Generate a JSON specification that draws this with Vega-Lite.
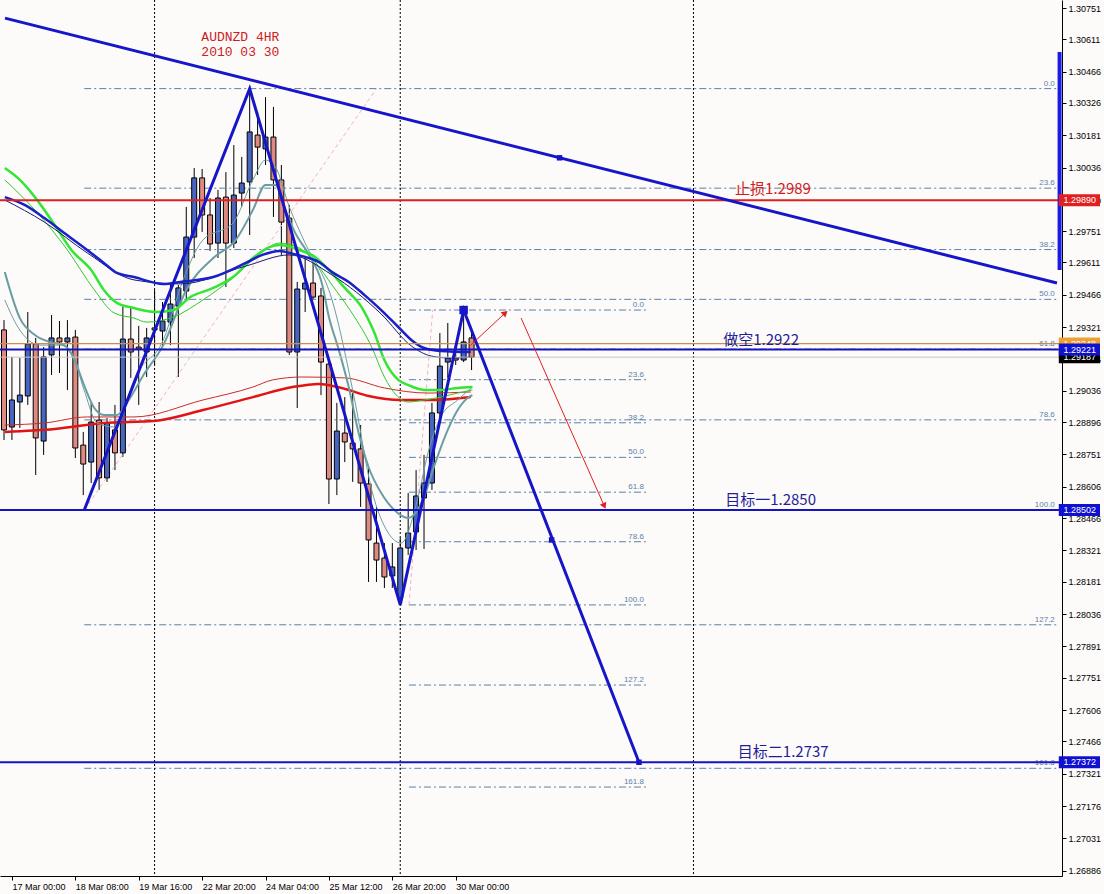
{
"$schema": "https://vega.github.io/schema/vega-lite/v6.json",
"width": 1062, "height": 876,
"autosize": {"type": "none"},
"padding": {"left": 0, "top": 0, "right": 42, "bottom": 18},
"background": "#fdfafa",
"config": {"view": {"stroke": null}, "axis": {"grid": false, "tickColor": "#000000", "domainColor": "#000000", "labelColor": "#000000", "labelFont": "Liberation Sans", "labelFontSize": 9, "labelOverlap": false, "labelSeparation": 0, "labelFlush": false, "labelBound": false}},
"resolve": {"axis": {"x": "independent", "y": "independent"}},
"datasets": {
"c": [
{"t":-1,"o":1.29309,"h":1.29353,"l":1.28816,"c":1.28861},
{"t":0,"o":1.28874,"h":1.29188,"l":1.28816,"c":1.28995},
{"t":1,"o":1.28986,"h":1.29183,"l":1.28870,"c":1.29017},
{"t":2,"o":1.29013,"h":1.29389,"l":1.28973,"c":1.29246},
{"t":3,"o":1.29246,"h":1.29273,"l":1.28659,"c":1.28825},
{"t":4,"o":1.28811,"h":1.29232,"l":1.28749,"c":1.29188},
{"t":5,"o":1.29197,"h":1.29376,"l":1.29107,"c":1.29273},
{"t":6,"o":1.29273,"h":1.29349,"l":1.29116,"c":1.29255},
{"t":7,"o":1.29255,"h":1.29353,"l":1.29040,"c":1.29273},
{"t":8,"o":1.29277,"h":1.29309,"l":1.28735,"c":1.28780},
{"t":9,"o":1.28793,"h":1.28852,"l":1.28569,"c":1.28708},
{"t":10,"o":1.28717,"h":1.28982,"l":1.28623,"c":1.28896},
{"t":11,"o":1.28905,"h":1.28986,"l":1.28592,"c":1.28646},
{"t":12,"o":1.28646,"h":1.28914,"l":1.28628,"c":1.28892},
{"t":13,"o":1.28861,"h":1.28973,"l":1.28681,"c":1.28758},
{"t":14,"o":1.28758,"h":1.29412,"l":1.28740,"c":1.29268},
{"t":15,"o":1.29268,"h":1.29412,"l":1.29094,"c":1.29210},
{"t":16,"o":1.29232,"h":1.29327,"l":1.28973,"c":1.29224},
{"t":17,"o":1.29210,"h":1.29318,"l":1.29098,"c":1.29273},
{"t":18,"o":1.29318,"h":1.29488,"l":1.29152,"c":1.29309},
{"t":19,"o":1.29304,"h":1.29434,"l":1.29228,"c":1.29349},
{"t":20,"o":1.29344,"h":1.29519,"l":1.29241,"c":1.29425},
{"t":21,"o":1.29416,"h":1.29510,"l":1.29098,"c":1.29497},
{"t":22,"o":1.29483,"h":1.29860,"l":1.29443,"c":1.29725},
{"t":23,"o":1.29725,"h":1.30034,"l":1.29631,"c":1.29990},
{"t":24,"o":1.29990,"h":1.30030,"l":1.29748,"c":1.29824},
{"t":25,"o":1.29824,"h":1.29900,"l":1.29663,"c":1.29694},
{"t":26,"o":1.29698,"h":1.29936,"l":1.29631,"c":1.29900},
{"t":27,"o":1.29904,"h":1.30016,"l":1.29501,"c":1.29698},
{"t":28,"o":1.29698,"h":1.30137,"l":1.29676,"c":1.29913},
{"t":29,"o":1.29922,"h":1.30084,"l":1.29860,"c":1.29967},
{"t":30,"o":1.29972,"h":1.30390,"l":1.29734,"c":1.30196},
{"t":31,"o":1.30182,"h":1.30285,"l":1.30003,"c":1.30128},
{"t":32,"o":1.30120,"h":1.30352,"l":1.30048,"c":1.30173},
{"t":33,"o":1.30173,"h":1.30308,"l":1.29815,"c":1.29981},
{"t":34,"o":1.29981,"h":1.30048,"l":1.29645,"c":1.29792},
{"t":35,"o":1.29810,"h":1.29869,"l":1.29197,"c":1.29210},
{"t":36,"o":1.29210,"h":1.29524,"l":1.28959,"c":1.29492},
{"t":37,"o":1.29492,"h":1.29631,"l":1.29389,"c":1.29519},
{"t":38,"o":1.29519,"h":1.29609,"l":1.29443,"c":1.29456},
{"t":39,"o":1.29461,"h":1.29497,"l":1.29017,"c":1.29165},
{"t":40,"o":1.29156,"h":1.29174,"l":1.28529,"c":1.28641},
{"t":41,"o":1.28641,"h":1.28982,"l":1.28569,"c":1.28856},
{"t":42,"o":1.28847,"h":1.29008,"l":1.28717,"c":1.28807},
{"t":43,"o":1.28802,"h":1.29026,"l":1.28628,"c":1.28776},
{"t":44,"o":1.28776,"h":1.28883,"l":1.28516,"c":1.28623},
{"t":45,"o":1.28619,"h":1.28690,"l":1.28180,"c":1.28368},
{"t":46,"o":1.28354,"h":1.28516,"l":1.28180,"c":1.28278},
{"t":47,"o":1.28287,"h":1.28354,"l":1.28153,"c":1.28202},
{"t":48,"o":1.28207,"h":1.28354,"l":1.28153,"c":1.28247},
{"t":49,"o":1.28108,"h":1.28377,"l":1.28077,"c":1.28332},
{"t":50,"o":1.28332,"h":1.28578,"l":1.28301,"c":1.28399},
{"t":51,"o":1.28404,"h":1.28681,"l":1.28323,"c":1.28565},
{"t":52,"o":1.28556,"h":1.28749,"l":1.28328,"c":1.28623},
{"t":53,"o":1.28623,"h":1.28982,"l":1.28592,"c":1.28937},
{"t":54,"o":1.28937,"h":1.29295,"l":1.28905,"c":1.29147},
{"t":55,"o":1.29165,"h":1.29340,"l":1.29094,"c":1.29183},
{"t":56,"o":1.29183,"h":1.29250,"l":1.29152,"c":1.29174},
{"t":57,"o":1.29174,"h":1.29403,"l":1.29165,"c":1.29255},
{"t":58,"o":1.29273,"h":1.29300,"l":1.29129,"c":1.29187}
],
"navyK": [
{"t":-0.9,"p":1.29904},{"t":1.6,"p":1.29869},{"t":4.1,"p":1.29810},{"t":6.6,"p":1.29743},{"t":9.5,"p":1.29667},{"t":11.6,"p":1.29609},{"t":13.25,"p":1.29564},{"t":15.4,"p":1.29546},{"t":19.1,"p":1.29515},{"t":21.25,"p":1.29524},{"t":25.4,"p":1.29546},{"t":29.5,"p":1.29609},{"t":31.6,"p":1.29645},{"t":33.75,"p":1.29663},{"t":35,"p":1.29654},{"t":37,"p":1.29636},{"t":38.75,"p":1.29613},{"t":40.4,"p":1.29568},{"t":42.5,"p":1.29524},{"t":44.5,"p":1.29465},{"t":46.6,"p":1.29398},{"t":48.75,"p":1.29322},{"t":50.4,"p":1.29264},{"t":52,"p":1.29228},{"t":54.1,"p":1.29215},{"t":57.9,"p":1.29210}
],
"navyT": [
{"t":-0.9,"p":1.29891},{"t":4.1,"p":1.29792},{"t":9.5,"p":1.29654},{"t":15.4,"p":1.29533},{"t":21.25,"p":1.29515},{"t":29.5,"p":1.29595},{"t":35,"p":1.29645},{"t":40.4,"p":1.29555},{"t":46.6,"p":1.29380},{"t":50.4,"p":1.29237},{"t":52.9,"p":1.29192},{"t":55.4,"p":1.29183},{"t":57.9,"p":1.29188}
],
"greenK": [
{"t":-0.9,"p":1.30034},{"t":1,"p":1.29981},{"t":2.9,"p":1.29904},{"t":5.4,"p":1.29779},{"t":7.5,"p":1.29667},{"t":10,"p":1.29577},{"t":11.6,"p":1.29488},{"t":13.25,"p":1.29430},{"t":15.4,"p":1.29407},{"t":18.25,"p":1.29389},{"t":20.4,"p":1.29398},{"t":22.5,"p":1.29456},{"t":25.4,"p":1.29497},{"t":27.9,"p":1.29546},{"t":30.4,"p":1.29631},{"t":32.5,"p":1.29680},{"t":33.75,"p":1.29689},{"t":36.25,"p":1.29667},{"t":38.25,"p":1.29636},{"t":40,"p":1.29577},{"t":42,"p":1.29497},{"t":44.1,"p":1.29412},{"t":45.75,"p":1.29295},{"t":47,"p":1.29174},{"t":48.75,"p":1.29085},{"t":50,"p":1.29062},{"t":52,"p":1.29040},{"t":54.1,"p":1.29040},{"t":56.25,"p":1.29049},{"t":58.1,"p":1.29053}
],
"greenT": [
{"t":-0.9,"p":1.29981},{"t":2.9,"p":1.29846},{"t":7,"p":1.29667},{"t":10.4,"p":1.29488},{"t":12.9,"p":1.29385},{"t":15.4,"p":1.29362},{"t":17,"p":1.29344},{"t":20.4,"p":1.29367},{"t":24.1,"p":1.29443},{"t":27.9,"p":1.29542},{"t":31.6,"p":1.29658},{"t":33.75,"p":1.29698},{"t":36.25,"p":1.29676},{"t":38.25,"p":1.29613},{"t":40.4,"p":1.29510},{"t":42.9,"p":1.29385},{"t":45.4,"p":1.29232},{"t":47,"p":1.29098},{"t":48.5,"p":1.29017},{"t":50,"p":1.28986},{"t":52,"p":1.28995},{"t":54.1,"p":1.29008},{"t":56.25,"p":1.29026},{"t":58.1,"p":1.29040}
],
"redK": [
{"t":-0.9,"p":1.28852},{"t":5.4,"p":1.28865},{"t":11.6,"p":1.28892},{"t":17.9,"p":1.28901},{"t":24.1,"p":1.28950},{"t":30.4,"p":1.29008},{"t":35.4,"p":1.29053},{"t":38.75,"p":1.29067},{"t":41.6,"p":1.29049},{"t":45,"p":1.29013},{"t":49.1,"p":1.28995},{"t":53.25,"p":1.28995},{"t":57.9,"p":1.29008}
],
"redT": [
{"t":-0.9,"p":1.28883},{"t":4.1,"p":1.28892},{"t":9.5,"p":1.28919},{"t":15.4,"p":1.28919},{"t":24.1,"p":1.28995},{"t":30.4,"p":1.29053},{"t":32.9,"p":1.29085},{"t":36.6,"p":1.29098},{"t":42,"p":1.29094},{"t":47,"p":1.29049},{"t":52.5,"p":1.29026},{"t":57.9,"p":1.29031}
],
"tealK": [
{"t":-0.9,"p":1.29568},{"t":1,"p":1.29362},{"t":2.9,"p":1.29286},{"t":4.75,"p":1.29255},{"t":6.6,"p":1.29241},{"t":7.9,"p":1.29174},{"t":9.1,"p":1.29062},{"t":10.4,"p":1.28959},{"t":11.6,"p":1.28928},{"t":13.25,"p":1.28928},{"t":14.75,"p":1.28995},{"t":16.6,"p":1.29107},{"t":19.1,"p":1.29241},{"t":22,"p":1.29488},{"t":25.4,"p":1.29631},{"t":28.25,"p":1.29712},{"t":30.4,"p":1.29846},{"t":32,"p":1.29958},{"t":33.25,"p":1.29958},{"t":34.5,"p":1.29846},{"t":35.75,"p":1.29743},{"t":37.5,"p":1.29645},{"t":39.1,"p":1.29519},{"t":40,"p":1.29367},{"t":41.25,"p":1.29219},{"t":42.5,"p":1.29053},{"t":43.75,"p":1.28847},{"t":45,"p":1.28695},{"t":46.6,"p":1.28578},{"t":48.25,"p":1.28502},{"t":50,"p":1.28466},{"t":52,"p":1.28560},{"t":53.25,"p":1.28695},{"t":55,"p":1.28861},{"t":56.25,"p":1.28950},{"t":57.5,"p":1.29004},{"t":58.1,"p":1.29017}
],
"tealT": [
{"t":-0.9,"p":1.29443},{"t":0.75,"p":1.29322},{"t":3.5,"p":1.29241},{"t":6,"p":1.29241},{"t":7.5,"p":1.29210},{"t":9.1,"p":1.29040},{"t":10.75,"p":1.28892},{"t":12.9,"p":1.28874},{"t":14.1,"p":1.28950},{"t":15.4,"p":1.29085},{"t":19.1,"p":1.29264},{"t":21.6,"p":1.29533},{"t":24.1,"p":1.29712},{"t":27.9,"p":1.29788},{"t":30.4,"p":1.29981},{"t":32,"p":1.30070},{"t":33.25,"p":1.30039},{"t":35,"p":1.29860},{"t":37,"p":1.29698},{"t":40.4,"p":1.29443},{"t":43.25,"p":1.28995},{"t":45.4,"p":1.28592},{"t":47.5,"p":1.28399},{"t":49.1,"p":1.28354},{"t":51.25,"p":1.28560},{"t":52.5,"p":1.28758},{"t":54.1,"p":1.28919},{"t":56.25,"p":1.28995},{"t":58.1,"p":1.29053}
],
"fib1": [
{"t0":9.125,"t1":131.875,"tl":131.6,"p":1.30390,"lab":"0.0"},
{"t0":9.125,"t1":131.875,"tl":131.6,"p":1.29944,"lab":"23.6"},
{"t0":9.125,"t1":131.875,"tl":131.6,"p":1.29669,"lab":"38.2"},
{"t0":9.125,"t1":131.875,"tl":131.6,"p":1.29446,"lab":"50.0"},
{"t0":9.125,"t1":131.875,"tl":131.6,"p":1.29223,"lab":"61.8"},
{"t0":9.125,"t1":131.875,"tl":131.6,"p":1.28906,"lab":"78.6"},
{"t0":9.125,"t1":131.875,"tl":131.6,"p":1.28502,"lab":"100.0"},
{"t0":9.125,"t1":131.875,"tl":131.6,"p":1.27988,"lab":"127.2"},
{"t0":9.125,"t1":131.875,"tl":131.6,"p":1.27345,"lab":"161.8"},
{"t0":50.1,"t1":80.4,"tl":79.75,"p":1.29398,"lab":"0.0"},
{"t0":50.1,"t1":80.4,"tl":79.75,"p":1.29086,"lab":"23.6"},
{"t0":50.1,"t1":80.4,"tl":79.75,"p":1.28893,"lab":"38.2"},
{"t0":50.1,"t1":80.4,"tl":79.75,"p":1.28738,"lab":"50.0"},
{"t0":50.1,"t1":80.4,"tl":79.75,"p":1.28582,"lab":"61.8"},
{"t0":50.1,"t1":80.4,"tl":79.75,"p":1.28360,"lab":"78.6"},
{"t0":50.1,"t1":80.4,"tl":79.75,"p":1.28077,"lab":"100.0"},
{"t0":50.1,"t1":80.4,"tl":79.75,"p":1.27718,"lab":"127.2"},
{"t0":50.1,"t1":80.4,"tl":79.75,"p":1.27261,"lab":"161.8"}
],
"diag": [
{"g":1,"t":9.125,"p":1.28502},{"g":1,"t":46,"p":1.30390},
{"g":2,"t":50.1,"p":1.28077},{"g":2,"t":53.1,"p":1.29398}
],
"pattern": [
{"t":9.125,"p":1.28502},{"t":30,"p":1.30390},{"t":49,"p":1.28077},{"t":57,"p":1.29398},{"t":79.125,"p":1.27372}
],
"trend": [{"t":-0.875,"p":1.30706},{"t":131.875,"p":1.29519}],
"marks": [{"t":68.1,"p":1.28368},{"t":79.125,"p":1.27372},{"t":69.1,"p":1.30080}],
"arrows": [
{"g":1,"t":57.9,"p":1.29241},{"g":1,"t":62.25,"p":1.29385},
{"g":2,"t":64.25,"p":1.29362},{"g":2,"t":74.75,"p":1.28520}
],
"boxA": [
{"t0":132.1,"t1":137.3,"tl":132.7,"p":1.29248,"k":"ask","lab":"1.29248"},
{"t0":132.1,"t1":137.3,"tl":132.7,"p":1.29187,"k":"bid","lab":"1.29187"}
],
"boxB": [
{"t0":132.1,"t1":137.3,"tl":132.7,"p":1.29221,"k":"line","lab":"1.29221"},
{"t0":132.1,"t1":137.3,"tl":132.7,"p":1.29890,"k":"stop","lab":"1.29890"},
{"t0":132.1,"t1":137.3,"tl":132.7,"p":1.28502,"k":"line","lab":"1.28502"},
{"t0":132.1,"t1":137.3,"tl":132.7,"p":1.27372,"k":"line","lab":"1.27372"}
]
},
"layer": [
{
"data": {"name": "c"},
"mark": {"type": "rule", "color": "#000000", "strokeWidth": 1},
"encoding": {
"x": {"field": "t", "type": "quantitative", "title": null, "scale": {"domain": [-0.875, 131.875], "nice": false, "zero": false},
 "axis": {"values": [0, 8, 16, 24, 32, 40, 48, 56], "labelExpr": "['17 Mar 00:00','18 Mar 08:00','19 Mar 16:00','22 Mar 20:00','24 Mar 04:00','25 Mar 12:00','26 Mar 20:00','30 Mar 00:00'][datum.value/8]", "title": null, "grid": false, "tickSize": 4, "tickColor": "#000000", "domainColor": "#000000", "labelAlign": "left", "labelBaseline": "top", "labelPadding": 2, "labelDx": 1, "labelFont": "Liberation Sans", "labelFontSize": 9, "labelColor": "#000000", "labelOverlap": false, "labelFlush": false, "labelBound": false}},
"y": {"field": "l", "type": "quantitative", "title": null, "scale": {"domain": [1.268625, 1.30787], "nice": false, "zero": false},
 "axis": {"orient": "right", "values": [1.30751,1.30611,1.30466,1.30326,1.30181,1.30036,1.29890,1.29751,1.29611,1.29466,1.29321,1.29176,1.29036,1.28896,1.28751,1.28606,1.28466,1.28321,1.28181,1.28036,1.27891,1.27751,1.27606,1.27466,1.27321,1.27176,1.27031,1.26886], "format": ".5f", "title": null, "grid": false, "tickSize": 4, "tickColor": "#000000", "domainColor": "#000000", "labelFont": "Liberation Sans", "labelFontSize": 9, "labelColor": "#000000", "labelPadding": 2, "labelOverlap": false, "labelSeparation": 0, "labelFlush": false, "labelBound": false}},
"y2": {"field": "h"}
}
},
{
"data": {"name": "fib1"},
"mark": {"type": "rule", "color": "#5a82a8", "strokeWidth": 1, "strokeDash": [7, 3, 2, 3]},
"encoding": {
"x": {"field": "t0", "type": "quantitative", "axis": null, "scale": {"domain": [-0.875, 131.875], "nice": false, "zero": false}},
"x2": {"field": "t1"},
"y": {"field": "p", "type": "quantitative", "axis": null, "scale": {"domain": [1.268625, 1.30787], "nice": false, "zero": false}}
}
},
{
"data": {"name": "fib1"},
"mark": {"type": "text", "color": "#5a82a8", "font": "Liberation Sans", "fontSize": 8, "align": "right", "baseline": "bottom", "dy": -1},
"encoding": {
"x": {"field": "tl", "type": "quantitative", "axis": null, "scale": {"domain": [-0.875, 131.875], "nice": false, "zero": false}},
"y": {"field": "p", "type": "quantitative", "axis": null, "scale": {"domain": [1.268625, 1.30787], "nice": false, "zero": false}},
"text": {"field": "lab"}
}
},
{
"data": {"values": [{"t": 18}, {"t": 49}, {"t": 86}]},
"mark": {"type": "rule", "color": "#000000", "strokeWidth": 1, "strokeDash": [2, 2]},
"encoding": {
"x": {"field": "t", "type": "quantitative", "axis": null, "scale": {"domain": [-0.875, 131.875], "nice": false, "zero": false}}
}
},
{
"data": {"name": "diag"},
"mark": {"type": "line", "color": "#f0b4c4", "strokeWidth": 1, "strokeDash": [4, 3]},
"encoding": {
"x": {"field": "t", "type": "quantitative", "axis": null, "scale": {"domain": [-0.875, 131.875], "nice": false, "zero": false}},
"y": {"field": "p", "type": "quantitative", "axis": null, "scale": {"domain": [1.268625, 1.30787], "nice": false, "zero": false}},
"detail": {"field": "g"}
}
},
{
"data": {"name": "c"},
"mark": {"type": "bar", "size": 5, "stroke": "#000000", "strokeWidth": 1},
"encoding": {
"x": {"field": "t", "type": "quantitative", "axis": null, "scale": {"domain": [-0.875, 131.875], "nice": false, "zero": false}},
"y": {"field": "o", "type": "quantitative", "axis": null, "scale": {"domain": [1.268625, 1.30787], "nice": false, "zero": false}},
"y2": {"field": "c"},
"color": {"condition": {"test": "datum.c >= datum.o", "value": "#4866c0"}, "value": "#dc8a82"}
}
},
{
"data": {"name": "redT"},
"mark": {"type": "line", "color": "#cc2a2a", "strokeWidth": 1, "interpolate": "monotone"},
"encoding": {
"x": {"field": "t", "type": "quantitative", "axis": null, "scale": {"domain": [-0.875, 131.875], "nice": false, "zero": false}},
"y": {"field": "p", "type": "quantitative", "axis": null, "scale": {"domain": [1.268625, 1.30787], "nice": false, "zero": false}}
}
},
{
"data": {"name": "redK"},
"mark": {"type": "line", "color": "#e01414", "strokeWidth": 2.5, "interpolate": "monotone"},
"encoding": {
"x": {"field": "t", "type": "quantitative", "axis": null, "scale": {"domain": [-0.875, 131.875], "nice": false, "zero": false}},
"y": {"field": "p", "type": "quantitative", "axis": null, "scale": {"domain": [1.268625, 1.30787], "nice": false, "zero": false}}
}
},
{
"data": {"name": "tealT"},
"mark": {"type": "line", "color": "#6a9ea2", "strokeWidth": 1, "interpolate": "monotone"},
"encoding": {
"x": {"field": "t", "type": "quantitative", "axis": null, "scale": {"domain": [-0.875, 131.875], "nice": false, "zero": false}},
"y": {"field": "p", "type": "quantitative", "axis": null, "scale": {"domain": [1.268625, 1.30787], "nice": false, "zero": false}}
}
},
{
"data": {"name": "tealK"},
"mark": {"type": "line", "color": "#6a9ea2", "strokeWidth": 2, "interpolate": "monotone"},
"encoding": {
"x": {"field": "t", "type": "quantitative", "axis": null, "scale": {"domain": [-0.875, 131.875], "nice": false, "zero": false}},
"y": {"field": "p", "type": "quantitative", "axis": null, "scale": {"domain": [1.268625, 1.30787], "nice": false, "zero": false}}
}
},
{
"data": {"name": "greenT"},
"mark": {"type": "line", "color": "#2ccc2c", "strokeWidth": 1, "interpolate": "monotone"},
"encoding": {
"x": {"field": "t", "type": "quantitative", "axis": null, "scale": {"domain": [-0.875, 131.875], "nice": false, "zero": false}},
"y": {"field": "p", "type": "quantitative", "axis": null, "scale": {"domain": [1.268625, 1.30787], "nice": false, "zero": false}}
}
},
{
"data": {"name": "greenK"},
"mark": {"type": "line", "color": "#33e633", "strokeWidth": 2.5, "interpolate": "monotone"},
"encoding": {
"x": {"field": "t", "type": "quantitative", "axis": null, "scale": {"domain": [-0.875, 131.875], "nice": false, "zero": false}},
"y": {"field": "p", "type": "quantitative", "axis": null, "scale": {"domain": [1.268625, 1.30787], "nice": false, "zero": false}}
}
},
{
"data": {"name": "navyT"},
"mark": {"type": "line", "color": "#1a1a70", "strokeWidth": 1, "interpolate": "monotone"},
"encoding": {
"x": {"field": "t", "type": "quantitative", "axis": null, "scale": {"domain": [-0.875, 131.875], "nice": false, "zero": false}},
"y": {"field": "p", "type": "quantitative", "axis": null, "scale": {"domain": [1.268625, 1.30787], "nice": false, "zero": false}}
}
},
{
"data": {"name": "navyK"},
"mark": {"type": "line", "color": "#1a20c8", "strokeWidth": 2.5, "interpolate": "monotone"},
"encoding": {
"x": {"field": "t", "type": "quantitative", "axis": null, "scale": {"domain": [-0.875, 131.875], "nice": false, "zero": false}},
"y": {"field": "p", "type": "quantitative", "axis": null, "scale": {"domain": [1.268625, 1.30787], "nice": false, "zero": false}}
}
},
{
"data": {"values": [{"p": 1.29187}]},
"mark": {"type": "rule", "color": "#c4c4c4", "strokeWidth": 1},
"encoding": {"y": {"field": "p", "type": "quantitative", "axis": null, "scale": {"domain": [1.268625, 1.30787], "nice": false, "zero": false}}}
},
{
"data": {"values": [{"p": 1.29248}]},
"mark": {"type": "rule", "color": "#c89050", "strokeWidth": 1.2},
"encoding": {"y": {"field": "p", "type": "quantitative", "axis": null, "scale": {"domain": [1.268625, 1.30787], "nice": false, "zero": false}}}
},
{
"data": {"values": [{"p": 1.29890}]},
"mark": {"type": "rule", "color": "#dd2020", "strokeWidth": 2},
"encoding": {"y": {"field": "p", "type": "quantitative", "axis": null, "scale": {"domain": [1.268625, 1.30787], "nice": false, "zero": false}}}
},
{
"data": {"values": [{"p": 1.29221}, {"p": 1.28502}, {"p": 1.27372}]},
"mark": {"type": "rule", "color": "#1414c0", "strokeWidth": 2},
"encoding": {"y": {"field": "p", "type": "quantitative", "axis": null, "scale": {"domain": [1.268625, 1.30787], "nice": false, "zero": false}}}
},
{
"data": {"name": "trend"},
"mark": {"type": "line", "color": "#1616c8", "strokeWidth": 3},
"encoding": {
"x": {"field": "t", "type": "quantitative", "axis": null, "scale": {"domain": [-0.875, 131.875], "nice": false, "zero": false}},
"y": {"field": "p", "type": "quantitative", "axis": null, "scale": {"domain": [1.268625, 1.30787], "nice": false, "zero": false}}
}
},
{
"data": {"name": "pattern"},
"mark": {"type": "line", "color": "#1616c8", "strokeWidth": 3},
"encoding": {
"x": {"field": "t", "type": "quantitative", "axis": null, "scale": {"domain": [-0.875, 131.875], "nice": false, "zero": false}},
"y": {"field": "p", "type": "quantitative", "axis": null, "scale": {"domain": [1.268625, 1.30787], "nice": false, "zero": false}}
}
},
{
"data": {"name": "marks"},
"mark": {"type": "point", "shape": "square", "filled": true, "size": 30, "color": "#1616c8", "opacity": 1},
"encoding": {
"x": {"field": "t", "type": "quantitative", "axis": null, "scale": {"domain": [-0.875, 131.875], "nice": false, "zero": false}},
"y": {"field": "p", "type": "quantitative", "axis": null, "scale": {"domain": [1.268625, 1.30787], "nice": false, "zero": false}}
}
},
{
"data": {"values": [{"t": 57, "p": 1.29398}]},
"mark": {"type": "point", "shape": "square", "filled": true, "size": 72, "color": "#1616c8", "opacity": 1},
"encoding": {
"x": {"field": "t", "type": "quantitative", "axis": null, "scale": {"domain": [-0.875, 131.875], "nice": false, "zero": false}},
"y": {"field": "p", "type": "quantitative", "axis": null, "scale": {"domain": [1.268625, 1.30787], "nice": false, "zero": false}}
}
},
{
"data": {"name": "arrows"},
"mark": {"type": "line", "color": "#e02020", "strokeWidth": 1},
"encoding": {
"x": {"field": "t", "type": "quantitative", "axis": null, "scale": {"domain": [-0.875, 131.875], "nice": false, "zero": false}},
"y": {"field": "p", "type": "quantitative", "axis": null, "scale": {"domain": [1.268625, 1.30787], "nice": false, "zero": false}},
"detail": {"field": "g"}
}
},
{
"data": {"values": [{"t": 62.25, "p": 1.29385}]},
"mark": {"type": "point", "shape": "triangle-up", "filled": true, "size": 50, "color": "#e02020", "opacity": 1, "angle": 48},
"encoding": {
"x": {"field": "t", "type": "quantitative", "axis": null, "scale": {"domain": [-0.875, 131.875], "nice": false, "zero": false}},
"y": {"field": "p", "type": "quantitative", "axis": null, "scale": {"domain": [1.268625, 1.30787], "nice": false, "zero": false}}
}
},
{
"data": {"values": [{"t": 74.75, "p": 1.28520}]},
"mark": {"type": "point", "shape": "triangle-up", "filled": true, "size": 50, "color": "#e02020", "opacity": 1, "angle": 156},
"encoding": {
"x": {"field": "t", "type": "quantitative", "axis": null, "scale": {"domain": [-0.875, 131.875], "nice": false, "zero": false}},
"y": {"field": "p", "type": "quantitative", "axis": null, "scale": {"domain": [1.268625, 1.30787], "nice": false, "zero": false}}
}
},
{
"data": {"values": [{"t": 23.9, "p": 1.30621, "txt": "AUDNZD 4HR"}, {"t": 23.9, "p": 1.30554, "txt": "2010 03 30"}]},
"mark": {"type": "text", "color": "#cc2020", "font": "Liberation Mono", "fontSize": 13, "align": "left", "baseline": "middle"},
"encoding": {
"x": {"field": "t", "type": "quantitative", "axis": null, "scale": {"domain": [-0.875, 131.875], "nice": false, "zero": false}},
"y": {"field": "p", "type": "quantitative", "axis": null, "scale": {"domain": [1.268625, 1.30787], "nice": false, "zero": false}},
"text": {"field": "txt"}
}
},
{
"data": {"values": [{"t": 91.25, "p": 1.29890, "txt": "止损1.2989"}]},
"mark": {"type": "text", "color": "#d02020", "font": "Noto Sans CJK SC", "fontSize": 15, "align": "left", "baseline": "bottom", "dy": -3},
"encoding": {
"x": {"field": "t", "type": "quantitative", "axis": null, "scale": {"domain": [-0.875, 131.875], "nice": false, "zero": false}},
"y": {"field": "p", "type": "quantitative", "axis": null, "scale": {"domain": [1.268625, 1.30787], "nice": false, "zero": false}},
"text": {"field": "txt"}
}
},
{
"data": {"values": [{"t": 89.75, "p": 1.29221, "txt": "做空1.2922"}, {"t": 90, "p": 1.28502, "txt": "目标一1.2850"}, {"t": 91.6, "p": 1.27372, "txt": "目标二1.2737"}]},
"mark": {"type": "text", "color": "#1e1e96", "font": "Noto Sans CJK SC", "fontSize": 15, "align": "left", "baseline": "bottom", "dy": -2},
"encoding": {
"x": {"field": "t", "type": "quantitative", "axis": null, "scale": {"domain": [-0.875, 131.875], "nice": false, "zero": false}},
"y": {"field": "p", "type": "quantitative", "axis": null, "scale": {"domain": [1.268625, 1.30787], "nice": false, "zero": false}},
"text": {"field": "txt"}
}
},
{
"data": {"values": [{"t": 132.2, "p": 1.30554, "p2": 1.29577}]},
"mark": {"type": "rule", "color": "#1a1ae6", "strokeWidth": 4},
"encoding": {
"x": {"field": "t", "type": "quantitative", "axis": null, "scale": {"domain": [-0.875, 131.875], "nice": false, "zero": false}},
"y": {"field": "p", "type": "quantitative", "axis": null, "scale": {"domain": [1.268625, 1.30787], "nice": false, "zero": false}},
"y2": {"field": "p2"}
}
},
{
"data": {"name": "boxA"},
"mark": {"type": "rule", "strokeWidth": 12},
"encoding": {
"x": {"field": "t0", "type": "quantitative", "axis": null, "scale": {"domain": [-0.875, 131.875], "nice": false, "zero": false}},
"x2": {"field": "t1"},
"y": {"field": "p", "type": "quantitative", "axis": null, "scale": {"domain": [1.268625, 1.30787], "nice": false, "zero": false}},
"color": {"field": "k", "type": "nominal", "scale": {"domain": ["ask", "bid", "line", "stop"], "range": ["#f0a030", "#000000", "#1010d0", "#e02020"]}, "legend": null}
}
},
{
"data": {"name": "boxA"},
"mark": {"type": "text", "color": "#ffffff", "font": "Liberation Sans", "fontSize": 9, "align": "left", "baseline": "middle"},
"encoding": {
"x": {"field": "tl", "type": "quantitative", "axis": null, "scale": {"domain": [-0.875, 131.875], "nice": false, "zero": false}},
"y": {"field": "p", "type": "quantitative", "axis": null, "scale": {"domain": [1.268625, 1.30787], "nice": false, "zero": false}},
"text": {"field": "lab"}
}
},
{
"data": {"name": "boxB"},
"mark": {"type": "rule", "strokeWidth": 12},
"encoding": {
"x": {"field": "t0", "type": "quantitative", "axis": null, "scale": {"domain": [-0.875, 131.875], "nice": false, "zero": false}},
"x2": {"field": "t1"},
"y": {"field": "p", "type": "quantitative", "axis": null, "scale": {"domain": [1.268625, 1.30787], "nice": false, "zero": false}},
"color": {"field": "k", "type": "nominal", "scale": {"domain": ["ask", "bid", "line", "stop"], "range": ["#f0a030", "#000000", "#1010d0", "#e02020"]}, "legend": null}
}
},
{
"data": {"name": "boxB"},
"mark": {"type": "text", "color": "#ffffff", "font": "Liberation Sans", "fontSize": 9, "align": "left", "baseline": "middle"},
"encoding": {
"x": {"field": "tl", "type": "quantitative", "axis": null, "scale": {"domain": [-0.875, 131.875], "nice": false, "zero": false}},
"y": {"field": "p", "type": "quantitative", "axis": null, "scale": {"domain": [1.268625, 1.30787], "nice": false, "zero": false}},
"text": {"field": "lab"}
}
}
]
}
